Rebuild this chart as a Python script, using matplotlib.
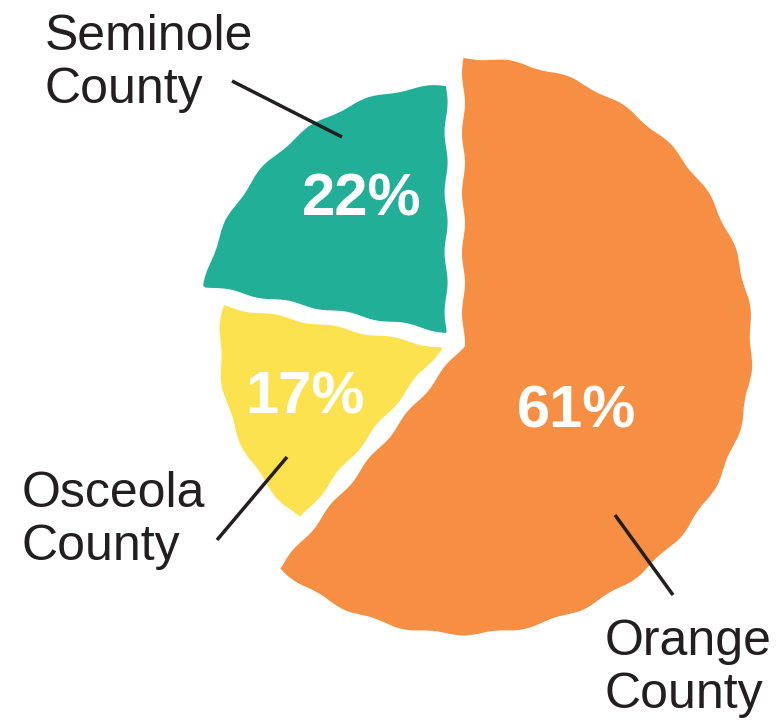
import matplotlib.pyplot as plt

W, H = 779, 721

counties = ["Orange\nCounty", "Osceola\nCounty", "Seminole\nCounty"]
shares = [61, 17, 22]
colors = ["#F68F44", "#FDE250", "#21AF97"]

# per-slice look (pixel units)
radii = [288, 222, 246]
explode = [9, 14, 14]
center = (455, H - 343)

# text / leader positions in pixels (y measured from top)
pct_pos = [(577, 412), (305, 398), (362, 200)]
name_pos = [(605, 708), (22, 560), (45, 103)]  # baseline of last line
leaders = [((615, 515), (673, 595)),
           ((217, 540), (287, 457)),
           ((232, 81), (342, 137))]

plt.rcParams["font.family"] = ["Liberation Sans", "DejaVu Sans"]
ink = "#231F20"

fig = plt.figure(figsize=(W / 100, H / 100), dpi=100)
ax = fig.add_axes([0, 0, 1, 1])

wedges, _ = ax.pie(shares, colors=colors, startangle=90, counterclock=False,
                   radius=radii[0], center=center, explode=explode,
                   wedgeprops=dict(linewidth=0))
for w, r in zip(wedges, radii):
    w.set_radius(r)
    # slightly torn-paper edges
    w.set_sketch_params(scale=1.5, length=60, randomness=1)

ax.set_xlim(0, W)
ax.set_ylim(0, H)
ax.set_aspect("equal")
ax.axis("off")

for s, (x, y) in zip(shares, pct_pos):
    ax.text(x, H - y, f"{s}%", color="white", fontsize=43, fontweight="bold",
            ha="center", va="center")

for name, (x, y) in zip(counties, name_pos):
    ax.text(x, H - y, name, color=ink, fontsize=36, ha="left",
            va="baseline", linespacing=1.2)

for (x0, y0), (x1, y1) in leaders:
    ax.plot([x0, x1], [H - y0, H - y1], color=ink, lw=2.5,
            solid_capstyle="butt")

fig.savefig("out.png", dpi=100)
